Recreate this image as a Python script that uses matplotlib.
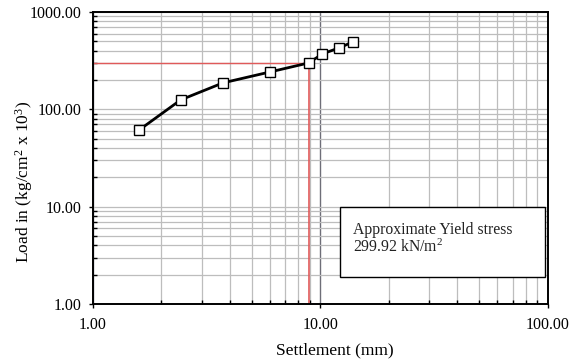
import matplotlib.pyplot as plt
from matplotlib.patches import Rectangle
from matplotlib.ticker import LogLocator, FormatStrFormatter, NullFormatter

plt.rcParams['font.family'] = ['Liberation Serif', 'DejaVu Serif']
plt.rcParams['mathtext.fontset'] = 'custom'
plt.rcParams['mathtext.rm'] = 'Liberation Serif'
plt.rcParams['mathtext.it'] = 'Liberation Serif:italic'

# Data
settlement = [1.59, 2.43, 3.73, 6.0, 8.9, 10.2, 12.1, 13.9]
load = [61.0, 125.0, 187.0, 242.0, 300.0, 371.0, 428.0, 493.0]
yield_x = 8.9
yield_y = 299.92

fig = plt.figure(figsize=(5.76, 3.63), dpi=100)
ax = fig.add_axes([0.1615, 0.1625, 0.7895, 0.8045])

ax.set_xscale('log')
ax.set_yscale('log')
ax.set_xlim(1, 100)
ax.set_ylim(1, 1000)

ax.xaxis.set_major_locator(LogLocator(base=10, numticks=10))
ax.yaxis.set_major_locator(LogLocator(base=10, numticks=10))
ax.xaxis.set_minor_locator(LogLocator(base=10, subs=range(2, 10), numticks=20))
ax.yaxis.set_minor_locator(LogLocator(base=10, subs=range(2, 10), numticks=20))
ax.xaxis.set_major_formatter(FormatStrFormatter('%.2f'))
ax.yaxis.set_major_formatter(FormatStrFormatter('%.2f'))
ax.xaxis.set_minor_formatter(NullFormatter())
ax.yaxis.set_minor_formatter(NullFormatter())

ax.grid(True, which='both', axis='y', color='#bdbdbd', linewidth=0.9)
ax.grid(True, which='minor', axis='x', color='#bdbdbd', linewidth=0.9)
ax.grid(True, which='major', axis='x', color='#6e6e78', linewidth=1.0)
ax.set_axisbelow(True)

ax.tick_params(which='major', direction='out', length=3, width=1, labelsize=11.5)
ax.tick_params(axis='x', which='major', pad=6)
ax.tick_params(axis='y', which='major', pad=5)
ax.tick_params(which='minor', direction='in', length=3, width=1)
for s in ax.spines.values():
    s.set_linewidth(1.4)
    s.set_color('black')

# yield guide lines
ax.plot([1, yield_x], [yield_y, yield_y], color='#e05a5a', linewidth=1, zorder=2)
ax.plot([yield_x, yield_x], [1, yield_y], color='#e05a5a', linewidth=1.2, zorder=2)

ax.plot(settlement, load, color='black', linewidth=2, marker='s', markersize=7,
        markerfacecolor='white', markeredgecolor='black', markeredgewidth=1, zorder=3)

ax.add_patch(Rectangle((0.543, 0.092), 0.45, 0.24, transform=ax.transAxes,
                       facecolor='white', edgecolor='black', linewidth=1, zorder=4))
ax.text(0.572, 0.28, 'Approximate Yield stress\n299.92 kN/m$^2$', transform=ax.transAxes,
        fontsize=11.3, va='top', ha='left', color='#222222', zorder=5, linespacing=1.0)

ax.set_xlabel('Settlement (mm)', fontsize=12.5)
ax.set_ylabel('Load in (kg/cm$^2$ x 10$^3$)', fontsize=12.5)
ax.xaxis.set_label_coords(0.532, -0.132)
ax.yaxis.set_label_coords(-0.128, 0.418)

fig.savefig('out.png', dpi=100)
